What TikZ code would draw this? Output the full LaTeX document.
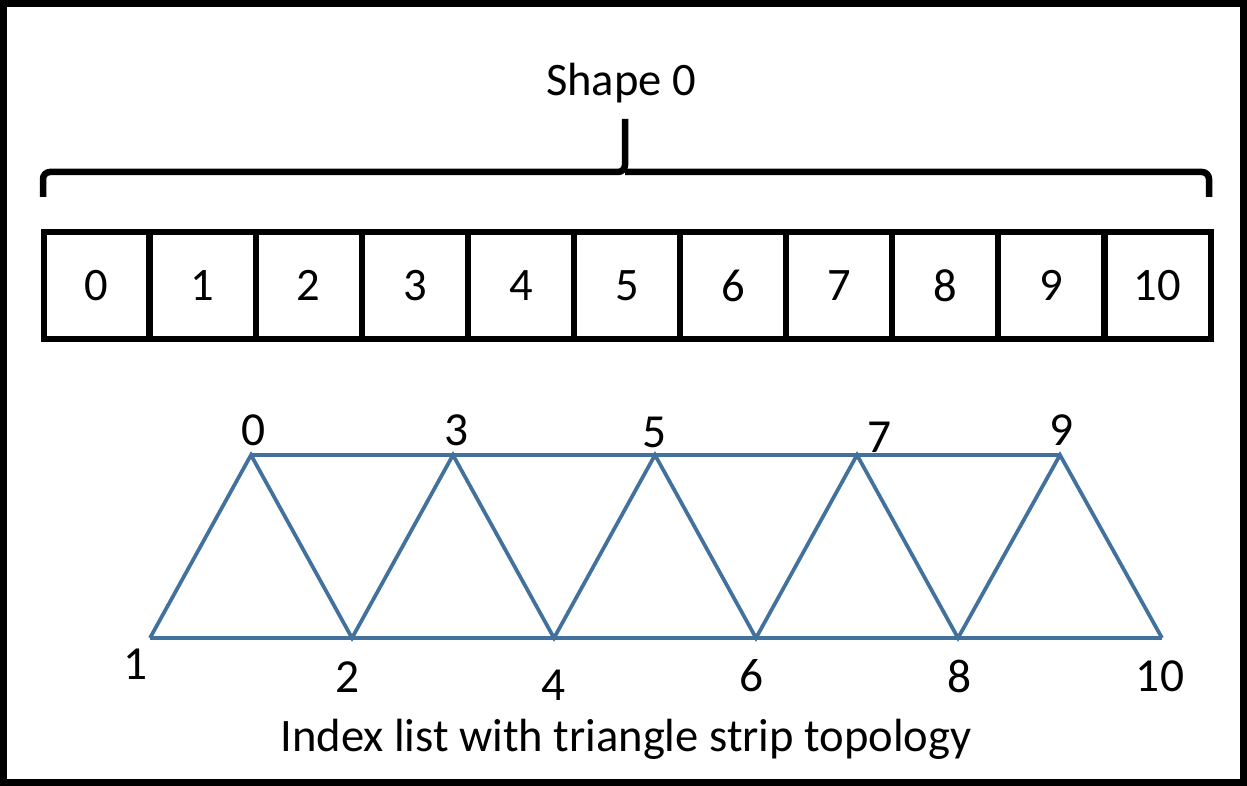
\documentclass[tikz,border=0pt]{standalone}
\usepackage{fontspec}
\setmainfont{Carlito}
\usetikzlibrary{positioning,calc}
\definecolor{stripcol}{HTML}{41719C}

\begin{document}
\begin{tikzpicture}[x=0.02cm, y=-0.02cm,
  cell/.style={draw, line width=0.12cm, minimum width=2.12cm, minimum height=2.14cm, font=\fontsize{26.5}{30}\selectfont},
  vlabel/.style={font=\fontsize{27}{32}\selectfont, inner sep=0pt},
  edge/.style={stripcol, line width=0.075cm, line join=miter},
  bracepath/.style={line width=0.13cm}]
\useasboundingbox (0,0) rectangle (1247,786);
% outer frame
\draw[line width=0.14cm] (3.5,3.5) rectangle (1243.5,782.5);

% index buffer cells
\foreach \i in {0,...,10}{
  \node[cell] (c\i) at (96.5+\i*106.1,285.5) {\i};
}

% brace over the cells
\node[font=\fontsize{26.5}{32}\selectfont] (shape) at (621,83) {Shape 0};
\draw[bracepath, rounded corners=4pt] (43,197) |- (625,172) -- (625,119);
\draw[bracepath, rounded corners=4pt] (625,172) -| (1209,197);

% strip vertices
\foreach \n/\x in {0/251,3/453,5/655,7/857,9/1060}{
  \coordinate (v\n) at (\x,455);
}
\foreach \n/\x in {1/150,2/352,4/554,6/756,8/958,10/1162}{
  \coordinate (v\n) at (\x,638);
}
\draw[edge] (v0) -- (v9);
\draw[edge] (v1) -- (v10);
\draw[edge] (v1) -- (v0) -- (v2) -- (v3) -- (v4) -- (v5) -- (v6) -- (v7) -- (v8) -- (v9) -- (v10);

% vertex labels
\node[vlabel] (l0) at (254,430) {0};
\node[vlabel] (l3) at (457,430) {3};
\node[vlabel] (l5) at (655,432) {5};
\node[vlabel] (l7) at (880,437) {7};
\node[vlabel] (l9) at (1062,430) {9};
\node[vlabel] (l1) at (136,664) {1};
\node[vlabel] (l2) at (348,677) {2};
\node[vlabel] (l4) at (554,685) {4};
\node[vlabel] (l6) at (752,676) {6};
\node[vlabel] (l8) at (960,676) {8};
\node[vlabel] (l10) at (1160,676) {10};

\node[font=\fontsize{26.5}{32}\selectfont] (title) at (626,739) {Index list with triangle strip topology};
\end{tikzpicture}
\end{document}
